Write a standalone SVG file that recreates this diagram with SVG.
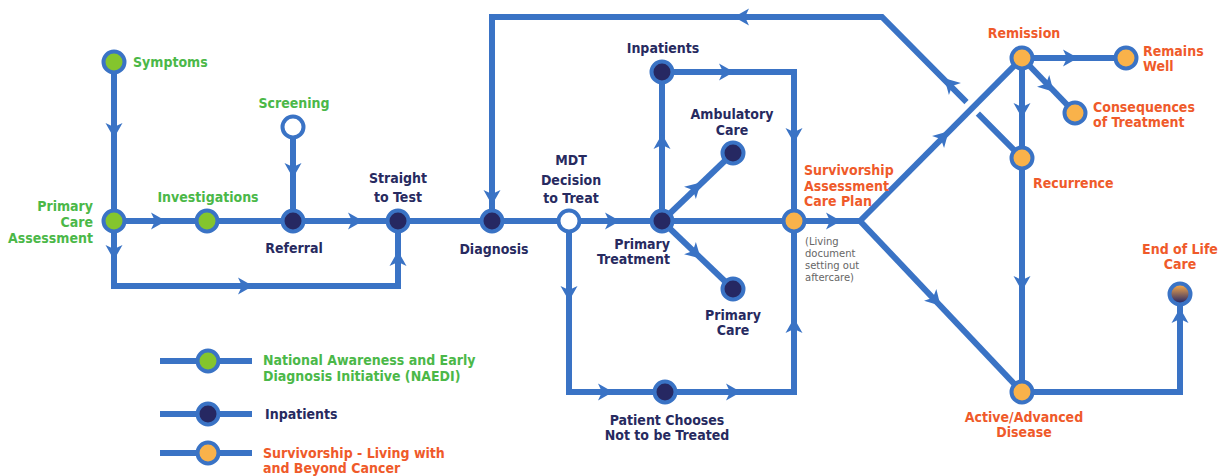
<svg xmlns="http://www.w3.org/2000/svg" width="1232" height="476" viewBox="0 0 1232 476">
<style>
.ln{fill:none;stroke:#3a73c5;stroke-width:6;stroke-linejoin:miter}
.nd{stroke:#3a73c5;stroke-width:4}
.gf{fill:#84c52d}.nf{fill:#262862}.of{fill:#f9b24a}.wf{fill:#ffffff}
text{font-family:"DejaVu Sans Condensed","DejaVu Sans",sans-serif;font-stretch:condensed;font-weight:bold;font-size:14px;letter-spacing:0}
.g{fill:#4bb848}.n{fill:#272a60}.o{fill:#ef5a2a}
.m{text-anchor:middle}.e{text-anchor:end}
.sm{font-family:"DejaVu Sans",sans-serif;font-stretch:normal;font-weight:normal;font-size:10px;fill:#666666}
.ar{fill:#3a73c5}
</style>
<defs>
<path id="a" d="M8,0 L-7,-8.5 L-3,0 L-7,8.5 Z"/>
<linearGradient id="eol" x1="0" y1="0" x2="0" y2="1">
<stop offset="0.1" stop-color="#f2a54a"/>
<stop offset="0.9" stop-color="#2a2a66"/>
</linearGradient>
</defs>
<g id="connectors">
<path class="ln" d="M114,62 V221 H398"/>
<path class="ln" d="M114,221 V286 H398 V221"/>
<path class="ln" d="M293,127 V221"/>
<path class="ln" d="M398,221 H794"/>
<path class="ln" d="M1022,158 L882,17 H492 V221"/>
<path class="ln" d="M569,221 V392 H794 V221"/>
<path class="ln" d="M662,221 V72 H794 V221"/>
<path class="ln" d="M662,221 L733,153"/>
<path class="ln" d="M662,221 L733,289"/>
<path class="ln" d="M794,221 H860"/>
<path d="M958,122 L988,92" fill="none" stroke="#ffffff" stroke-width="16"/>
<path class="ln" d="M860,221 L1022,58"/>
<path class="ln" d="M860,221 L1022,392"/>
<path class="ln" d="M1022,58 H1126"/>
<path class="ln" d="M1022,58 L1075,113"/>
<path class="ln" d="M1022,58 V392"/>
<path class="ln" d="M1022,392 H1180 V294"/>
<g class="ar">
<use href="#a" transform="translate(114,130) rotate(90)"/>
<use href="#a" transform="translate(158,221)"/>
<use href="#a" transform="translate(114,252) rotate(90)"/>
<use href="#a" transform="translate(245,286)"/>
<use href="#a" transform="translate(293,170) rotate(90)"/>
<use href="#a" transform="translate(355,221)"/>
<use href="#a" transform="translate(398,259) rotate(-90)"/>
<use href="#a" transform="translate(492,197) rotate(90)"/>
<use href="#a" transform="translate(612,221)"/>
<use href="#a" transform="translate(569,293) rotate(90)"/>
<use href="#a" transform="translate(605,392)"/>
<use href="#a" transform="translate(733,392)"/>
<use href="#a" transform="translate(794,326) rotate(-90)"/>
<use href="#a" transform="translate(662,142) rotate(-90)"/>
<use href="#a" transform="translate(726,72)"/>
<use href="#a" transform="translate(794,135) rotate(90)"/>
<use href="#a" transform="translate(695,188) rotate(-44)"/>
<use href="#a" transform="translate(695,253) rotate(44)"/>
<use href="#a" transform="translate(833,221)"/>
<use href="#a" transform="translate(943,137) rotate(-45)"/>
<use href="#a" transform="translate(935,300) rotate(46.5)"/>
<use href="#a" transform="translate(950,84) rotate(-135)"/>
<use href="#a" transform="translate(742,17) rotate(180)"/>
<use href="#a" transform="translate(1070,58)"/>
<use href="#a" transform="translate(1048,86) rotate(46)"/>
<use href="#a" transform="translate(1022,110) rotate(90)"/>
<use href="#a" transform="translate(1022,283) rotate(90)"/>
<use href="#a" transform="translate(1180,316) rotate(-90)"/>
</g>
</g>
<g id="symptoms"><circle class="nd gf" cx="114" cy="62" r="10.5"/><text class="g" x="133" y="67">Symptoms</text></g>
<g id="primary-care-assessment"><circle class="nd gf" cx="114" cy="221" r="10.5"/><text class="g e" x="93" y="211">Primary</text><text class="g e" x="93" y="227">Care</text><text class="g e" x="93" y="243">Assessment</text></g>
<g id="investigations"><circle class="nd gf" cx="207" cy="221" r="10.5"/><text class="g m" x="208" y="202">Investigations</text></g>
<g id="screening"><circle class="nd wf" cx="293" cy="127" r="10.5"/><text class="g m" x="294" y="108">Screening</text></g>
<g id="referral"><circle class="nd nf" cx="293" cy="221" r="10.5"/><text class="n m" x="294" y="253">Referral</text></g>
<g id="straight-to-test"><circle class="nd nf" cx="398" cy="221" r="10.5"/><text class="n m" x="398" y="183">Straight</text><text class="n m" x="398" y="202">to Test</text></g>
<g id="diagnosis"><circle class="nd nf" cx="492" cy="221" r="10.5"/><text class="n m" x="494" y="254">Diagnosis</text></g>
<g id="mdt"><circle class="nd wf" cx="569" cy="221" r="10.5"/><text class="n m" x="571" y="165">MDT</text><text class="n m" x="571" y="185">Decision</text><text class="n m" x="571" y="203">to Treat</text></g>
<g id="primary-treatment"><circle class="nd nf" cx="662" cy="221" r="10.5"/><text class="n e" x="670" y="249">Primary</text><text class="n e" x="670" y="264">Treatment</text></g>
<g id="inpatients"><circle class="nd nf" cx="662" cy="72" r="10.5"/><text class="n m" x="663" y="53">Inpatients</text></g>
<g id="ambulatory-care"><circle class="nd nf" cx="733" cy="153" r="10.5"/><text class="n m" x="732" y="119">Ambulatory</text><text class="n m" x="732" y="135">Care</text></g>
<g id="primary-care"><circle class="nd nf" cx="733" cy="289" r="10.5"/><text class="n m" x="733" y="320">Primary</text><text class="n m" x="733" y="335">Care</text></g>
<g id="patient-chooses"><circle class="nd nf" cx="665" cy="392" r="10.5"/><text class="n m" x="667" y="425">Patient Chooses</text><text class="n m" x="667" y="440">Not to be Treated</text></g>
<g id="survivorship-plan"><circle class="nd of" cx="794" cy="221" r="10.5"/><text class="o" x="804" y="175">Survivorship</text><text class="o" x="804" y="191">Assessment</text><text class="o" x="804" y="206">Care Plan</text><text class="sm" x="805" y="245">(Living</text><text class="sm" x="805" y="257">document</text><text class="sm" x="805" y="269">setting out</text><text class="sm" x="805" y="281">aftercare)</text></g>
<g id="remission"><circle class="nd of" cx="1022" cy="58" r="10.5"/><text class="o m" x="1024" y="38">Remission</text></g>
<g id="remains-well"><circle class="nd of" cx="1126" cy="58" r="10.5"/><text class="o" x="1143" y="56">Remains</text><text class="o" x="1143" y="71">Well</text></g>
<g id="consequences"><circle class="nd of" cx="1075" cy="113" r="10.5"/><text class="o" x="1093" y="112">Consequences</text><text class="o" x="1093" y="127">of Treatment</text></g>
<g id="recurrence"><circle class="nd of" cx="1022" cy="158" r="10.5"/><text class="o" x="1033" y="188">Recurrence</text></g>
<g id="active-advanced"><circle class="nd of" cx="1022" cy="392" r="10.5"/><text class="o m" x="1024" y="422">Active/Advanced</text><text class="o m" x="1024" y="437">Disease</text></g>
<g id="end-of-life"><circle class="nd" fill="url(#eol)" cx="1180" cy="294" r="10.5"/><text class="o m" x="1180" y="254">End of Life</text><text class="o m" x="1180" y="269">Care</text></g>
<g id="legend">
<path class="ln" d="M160,361 H252 M160,414 H252 M160,453 H252" stroke-width="7"/>
<circle class="nd gf" cx="208" cy="361" r="10.5"/>
<circle class="nd nf" cx="208" cy="414" r="10.5"/>
<circle class="nd of" cx="208" cy="453" r="10.5"/>
<text class="g" x="263" y="365">National Awareness and Early</text>
<text class="g" x="263" y="381">Diagnosis Initiative (NAEDI)</text>
<text class="n" x="265" y="419">Inpatients</text>
<text class="o" x="263" y="458">Survivorship - Living with</text>
<text class="o" x="263" y="473">and Beyond Cancer</text>
</g>
</svg>
